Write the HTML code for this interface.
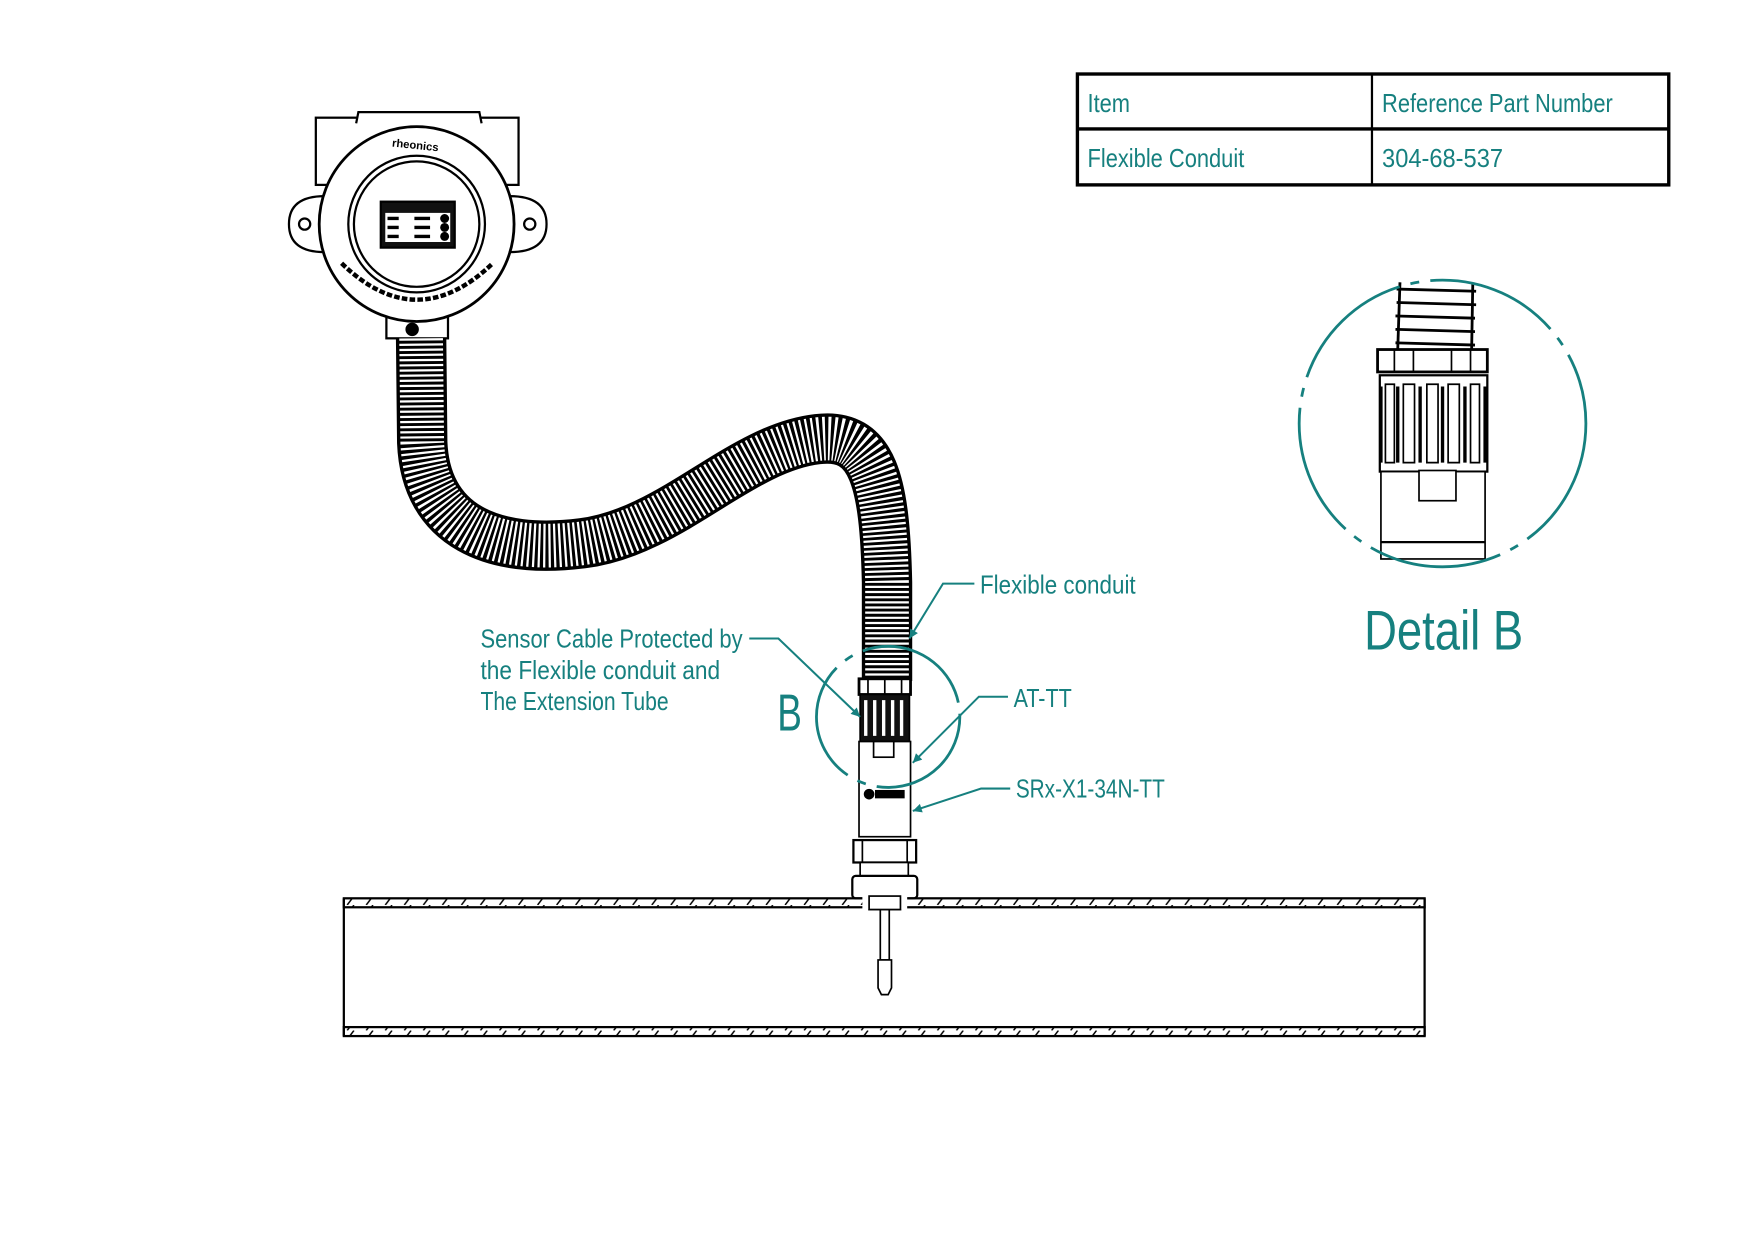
<!DOCTYPE html>
<html><head><meta charset="utf-8"><style>
html,body{margin:0;padding:0;background:#fff;}
svg{display:block;}
text{font-family:"Liberation Sans Narrow","Liberation Sans",sans-serif;fill:#16807f;}
</style></head><body>
<svg width="1755" height="1240" viewBox="0 0 1567 1107" xmlns="http://www.w3.org/2000/svg">
<defs>
<marker id="ar" viewBox="0 0 10 10" refX="10" refY="5" markerWidth="12" markerHeight="8" orient="auto-start-reverse" markerUnits="userSpaceOnUse"><path d="M0,0 L10,5 L0,10 z" fill="#16807f"/></marker>
<pattern id="hatch" width="17" height="8" patternUnits="userSpaceOnUse"><line x1="4" y1="8" x2="10" y2="0" stroke="#000" stroke-width="1.3"/></pattern>
</defs>

<!-- table -->
<g stroke="#000" stroke-width="3" fill="none">
<rect x="962" y="66" width="528" height="99"/>
<line x1="962" y1="115" x2="1490" y2="115"/>
<line x1="1225" y1="66" x2="1225" y2="165" stroke-width="2"/>
</g>
<text x="971" y="100" font-size="23" textLength="38" lengthAdjust="spacingAndGlyphs">Item</text>
<text x="1234" y="100" font-size="23" textLength="206" lengthAdjust="spacingAndGlyphs">Reference Part Number</text>
<text x="971" y="149" font-size="23" textLength="140" lengthAdjust="spacingAndGlyphs">Flexible Conduit</text>
<text x="1234" y="149" font-size="23" textLength="108" lengthAdjust="spacingAndGlyphs">304-68-537</text>

<!-- detail B -->
<g stroke="#000" stroke-width="1.5" fill="#fff">
<g stroke-width="2.5">
<path d="M1247,258 L1318,260 M1247,270 L1318,272 M1246,282 L1317,284 M1246,294 L1317,296 M1246,306 L1317,308"/>
<line x1="1250" y1="252" x2="1248" y2="312"/><line x1="1315" y1="254" x2="1314" y2="312"/>
</g>
<rect x="1230" y="312" width="98" height="20" stroke-width="2.5"/>
<path d="M1245,312v20M1262,312v20M1296,312v20M1313,312v20"/>
<rect x="1232" y="335" width="96" height="86" stroke-width="2"/>
<path d="M1237,343h8v70h-8zM1253,343h10v70h-10zM1274,343h10v70h-10zM1293,343h10v70h-10zM1313,343h8v70h-8z" fill="#fff"/>
<path d="M1233,345v68M1248,345v68M1268,345v68M1288,345v68M1308,345v68M1326,345v68" stroke-width="3"/>
<rect x="1233" y="421" width="93" height="78"/>
<rect x="1267" y="420" width="33" height="27"/>
<line x1="1233" y1="484" x2="1326" y2="484" stroke-width="2"/>
</g>
<circle cx="1288" cy="378" r="128" fill="none" stroke="#16807f" stroke-width="2.5" stroke-dasharray="120 10 8 10"/>
<text x="1218" y="580" font-size="50" textLength="142" lengthAdjust="spacingAndGlyphs">Detail B</text>

<!-- transmitter -->
<g stroke="#000" stroke-width="2" fill="#fff">
<rect x="282" y="105" width="181" height="60"/>
<path d="M318,110 L320,100 L428,100 L430,110" />
<path d="M290,175 Q258,175 258,200 Q258,225 290,225 Z"/>
<path d="M455,175 Q488,175 488,200 Q488,225 455,225 Z"/>
<circle cx="272" cy="200" r="5"/><circle cx="473" cy="200" r="5"/>
<rect x="345" y="270" width="55" height="32"/>
<circle cx="372" cy="200" r="87" stroke-width="2.5"/>
<circle cx="372" cy="200" r="61"/>
<circle cx="372" cy="200" r="56"/>
<rect x="340" y="180" width="66" height="41" fill="#111"/>
<rect x="344" y="190" width="58" height="26" fill="#fff" stroke="none"/>
<path d="M346,195h10M346,203h10M346,211h10M370,195h14M370,203h14M370,211h14" stroke-width="3"/>
<circle cx="397" cy="195" r="3" fill="#000"/><circle cx="397" cy="203" r="3" fill="#000"/><circle cx="397" cy="211" r="3" fill="#000"/>
<circle cx="368" cy="294" r="5" fill="#000"/>
</g>
<text x="350" y="133" font-size="10" style="fill:#000;font-weight:bold" transform="rotate(6 372 130)">rheonics</text>
<path d="M305,235 Q372,300 440,235" stroke="#000" stroke-width="4" fill="none" stroke-dasharray="5 2"/>

<!-- conduit -->
<path d="M376,302 L377,395 C380,470 440,495 520,485 C600,475 660,400 730,392 C780,386 790,430 792,520 L792,608" fill="none" stroke="#000" stroke-width="45"/>
<path d="M376,302 L377,395 C380,470 440,495 520,485 C600,475 660,400 730,392 C780,386 790,430 792,520 L792,608" fill="none" stroke="#fff" stroke-width="39" stroke-dasharray="2 2.6"/>

<!-- sensor -->
<g stroke="#000" stroke-width="1.5" fill="#fff">
<rect x="767" y="606" width="46" height="14" stroke-width="2.5"/>
<path d="M775,606v14M790,606v14M805,606v14"/>
<rect x="768" y="620" width="44" height="42" fill="#111"/>
<path d="M773,625v32M781,625v32M789,625v32M797,625v32M805,625v32" stroke="#fff" stroke-width="3"/>
<rect x="767" y="662" width="46" height="85"/>
<rect x="780" y="662" width="18" height="14"/>
<circle cx="776" cy="709" r="4" fill="#000"/>
<rect x="782" y="706" width="25" height="6" fill="#000"/>
<rect x="762" y="750" width="56" height="20" stroke-width="2"/>
<path d="M770,750v20M810,750v20"/>
<rect x="768" y="770" width="43" height="12"/>
<rect x="761" y="782" width="58" height="20" rx="3" stroke-width="2"/>
<rect x="776" y="802" width="28" height="10"/>
<rect x="786" y="812" width="8" height="45"/>
<path d="M784,857h12v25l-3,6h-6l-3,-6z"/>
</g>

<!-- pipe -->
<g stroke="#000" stroke-width="2">
<rect x="307" y="802" width="965" height="8" fill="url(#hatch)"/>
<rect x="307" y="917" width="965" height="8" fill="url(#hatch)"/>
<line x1="307" y1="802" x2="307" y2="925"/>
<line x1="1272" y1="802" x2="1272" y2="925"/>
</g>
<rect x="770" y="800" width="40" height="12" fill="#fff"/>
<rect x="776" y="800" width="28" height="12" fill="#fff" stroke="#000" stroke-width="1.5"/>
<path d="M786,812v5M794,812v5" stroke="#000"/>

<!-- B circle -->
<ellipse cx="793" cy="640" rx="64" ry="63" fill="none" stroke="#16807f" stroke-width="2.5" stroke-dasharray="110 10 8 10"/>
<text x="694" y="652" font-size="46" textLength="22" lengthAdjust="spacingAndGlyphs">B</text>

<!-- leaders -->
<g stroke="#16807f" stroke-width="1.8" fill="none">
<path d="M870,521 L842,521 L812,570" marker-end="url(#ar)"/>
<path d="M900,622 L874,622 L815,681" marker-end="url(#ar)"/>
<path d="M902,704 L876,704 L815,724" marker-end="url(#ar)"/>
<path d="M669,570 L695,570 L768,640" marker-end="url(#ar)"/>
</g>
<text x="875" y="530" font-size="23" textLength="139" lengthAdjust="spacingAndGlyphs">Flexible conduit</text>
<text x="905" y="631" font-size="23" textLength="52" lengthAdjust="spacingAndGlyphs">AT-TT</text>
<text x="907" y="712" font-size="23" textLength="133" lengthAdjust="spacingAndGlyphs">SRx-X1-34N-TT</text>
<text x="429" y="578" font-size="23" textLength="234" lengthAdjust="spacingAndGlyphs">Sensor Cable Protected by</text>
<text x="429" y="606" font-size="23" textLength="214" lengthAdjust="spacingAndGlyphs">the Flexible conduit and</text>
<text x="429" y="634" font-size="23" textLength="168" lengthAdjust="spacingAndGlyphs">The Extension Tube</text>
</svg>
</body></html>
